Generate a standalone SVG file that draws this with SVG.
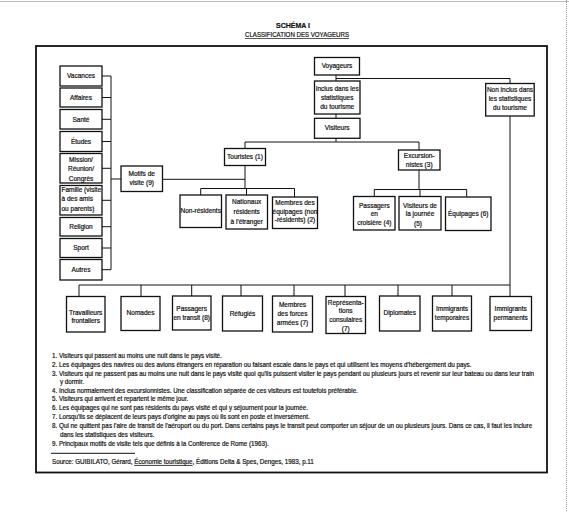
<svg xmlns="http://www.w3.org/2000/svg" width="569" height="512" viewBox="0 0 569 512">
<style>
text{font-family:'Liberation Sans',Arial,sans-serif;fill:#111;stroke:#111;stroke-width:0.2}
.t{font-size:6.5px;text-anchor:middle}
.bx{fill:#fff;stroke:#111;stroke-width:1.3}
.c{fill:none;stroke:#111;stroke-width:1}
.fn text{font-size:6.8px}
</style>
<rect width="569" height="512" fill="#fff"/>
<line x1="0" y1="1.5" x2="569" y2="1.5" stroke="#bbb" stroke-width="1"/>
<line x1="566.5" y1="0" x2="566.5" y2="512" stroke="#999" stroke-width="1" stroke-dasharray="1,1"/>
<g id="title">
<text x="293" y="27.5" style="font-size:7px;font-weight:bold;text-anchor:middle">SCHÉMA I</text>
<text x="245" y="37" style="font-size:6.8px" textLength="104" lengthAdjust="spacingAndGlyphs">CLASSIFICATION DES VOYAGEURS</text>
<line x1="245" y1="38.5" x2="349" y2="38.5" stroke="#111" stroke-width="0.7"/>
</g>
<rect id="frame" x="36" y="46" width="511" height="426.5" fill="none" stroke="#111" stroke-width="1.8"/>
<g id="connectors" class="c">
<path d="M102 76H111M102 97.5H111M102 119.3H111M102 141.5H111M102 168.3H111M102 200.3H111M102 226.7H111M102 248H111M102 269.7H111M111 76V269.7M111 179H121"/>
<path d="M162.5 179.3H245M245 142V148.5M245 165.5V188.5M200.7 188.5H294.5M200.7 188.5V195M246.5 188.5V195M294.5 188.5V197"/>
<path d="M245 142H419M336 138.3V142M419 142V150M419 170V189.5M374.3 189.5H466.7M374.3 189.5V196.5M420 189.5V196.5M466.7 189.5V197"/>
<path d="M336 75V81M336 78.5H510V83.5M336 114V118.3M510 116V296.5M79 285H510"/>
<path d="M79 285V296.5M141 285V296.5M191.7 285V296M241 285V296M294 285V296M345 285V296.5M398 285V296M452 285V296"/>
</g>
<g id="vacances"><rect class="bx" x="60" y="66" width="42" height="20"/><text class="t" x="81" y="78.3">Vacances</text></g>
<g id="affaires"><rect class="bx" x="60" y="88" width="42" height="19"/><text class="t" x="81" y="99.8">Affaires</text></g>
<g id="sante"><rect class="bx" x="60" y="109.5" width="42" height="19.5"/><text class="t" x="81" y="121.6">Santé</text></g>
<g id="etudes"><rect class="bx" x="60" y="131.5" width="42" height="20"/><text class="t" x="81" y="143.8">Études</text></g>
<g id="mission"><rect class="bx" x="60" y="153.5" width="42" height="29.5"/><text class="t" x="81" y="161.5">Mission/</text><text class="t" x="81" y="171">Réunion/</text><text class="t" x="81" y="180.5">Congrès</text></g>
<g id="famille"><rect class="bx" x="60" y="185.5" width="42" height="29.5"/><text x="61.5" y="192.3" style="font-size:6.5px" textLength="39.5" lengthAdjust="spacingAndGlyphs">Famille (visite</text><text x="61.5" y="201.3" style="font-size:6.5px">à des amis</text><text x="61.5" y="210.6" style="font-size:6.5px">ou parents)</text></g>
<g id="religion"><rect class="bx" x="60" y="217.5" width="42" height="18.5"/><text class="t" x="81" y="229">Religion</text></g>
<g id="sport"><rect class="bx" x="60" y="238.5" width="42" height="19"/><text class="t" x="81" y="250.3">Sport</text></g>
<g id="autres"><rect class="bx" x="60" y="259.5" width="42" height="20.5"/><text class="t" x="81" y="272">Autres</text></g>
<g id="motifs"><rect class="bx" x="121" y="166" width="41.5" height="25.5"/><text class="t" x="141.7" y="175.6">Motifs de</text><text class="t" x="141.7" y="185">visite (9)</text></g>
<g id="voyageurs"><rect class="bx" x="314.5" y="57.5" width="45" height="17.5"/><text class="t" x="337" y="68.3">Voyageurs</text></g>
<g id="inclus"><rect class="bx" x="314.5" y="81" width="45.5" height="33"/><text class="t" x="337.2" y="90.6">Inclus dans les</text><text class="t" x="337.2" y="99.6">statistiques</text><text class="t" x="337.2" y="109">du tourisme</text></g>
<g id="visiteurs"><rect class="bx" x="314.5" y="118.3" width="45.5" height="20"/><text class="t" x="337.2" y="130.3">Visiteurs</text></g>
<g id="noninclus"><rect class="bx" x="485.7" y="83.5" width="48.5" height="32.5"/><text class="t" x="510" y="91.6">Non inclus dans</text><text class="t" x="510" y="100.6">les statistiques</text><text class="t" x="510" y="109.6">du tourisme</text></g>
<g id="touristes"><rect class="bx" x="224.5" y="148.5" width="41" height="17"/><text class="t" x="245" y="159.3">Touristes (1)</text></g>
<g id="excursionnistes"><rect class="bx" x="398.5" y="150" width="41.5" height="20"/><text class="t" x="419.2" y="158">Excursion-</text><text class="t" x="419.2" y="167.3">nistes (3)</text></g>
<g id="nonresidents"><rect class="bx" x="180" y="195" width="41.5" height="32.5"/><text class="t" x="200.7" y="213">Non-résidents</text></g>
<g id="nationaux"><rect class="bx" x="226" y="195" width="41.5" height="34"/><text class="t" x="246.7" y="204">Nationaux</text><text class="t" x="246.7" y="214">résidents</text><text class="t" x="246.7" y="224">à l'étranger</text></g>
<g id="membres"><rect class="bx" x="272.5" y="197" width="45" height="31.5"/><text class="t" x="295" y="204.6">Membres des</text><text class="t" x="295" y="214">équipages (non</text><text class="t" x="295" y="222.3">-résidents) (2)</text></g>
<g id="croisiere"><rect class="bx" x="353.5" y="196.5" width="41.5" height="33.5"/><text class="t" x="374.3" y="208">Passagers</text><text class="t" x="374.3" y="216.3">en</text><text class="t" x="374.3" y="224.6">croisière (4)</text></g>
<g id="journee"><rect class="bx" x="399" y="196.5" width="42" height="33.5"/><text class="t" x="420" y="208">Visiteurs de</text><text class="t" x="420" y="216.3">la journée</text><text class="t" x="418" y="225.6">(5)</text></g>
<g id="equipages"><rect class="bx" x="445.5" y="197" width="45.5" height="33.5"/><text class="t" x="468.2" y="216.3">Équipages (6)</text></g>
<g id="travailleurs"><rect class="bx" x="66.5" y="296.5" width="38.5" height="35.5"/><text class="t" x="85.7" y="314.6">Travailleurs</text><text class="t" x="85.7" y="323">frontaliers</text></g>
<g id="nomades"><rect class="bx" x="121" y="296.5" width="39" height="34"/><text class="t" x="140.5" y="315">Nomades</text></g>
<g id="transit"><rect class="bx" x="172.5" y="296" width="38.5" height="34"/><text class="t" x="191.7" y="311.3">Passagers</text><text class="t" x="191.7" y="320">en transit (8)</text></g>
<g id="refugies"><rect class="bx" x="222.5" y="296" width="40" height="35"/><text class="t" x="242.5" y="315.6">Réfugiés</text></g>
<g id="forces"><rect class="bx" x="272.5" y="296" width="40" height="36"/><text class="t" x="292.5" y="306.6">Membres</text><text class="t" x="292.5" y="315.6">des forces</text><text class="t" x="292.5" y="325">armées (7)</text></g>
<g id="consulaires"><rect class="bx" x="326" y="296.5" width="39.5" height="37"/><text class="t" x="345.7" y="305">Représenta-</text><text class="t" x="345.7" y="313.3">tions</text><text class="t" x="345.7" y="321.6">consulaires</text><text class="t" x="345.7" y="330.6">(7)</text></g>
<g id="diplomates"><rect class="bx" x="379.5" y="296" width="40.5" height="35"/><text class="t" x="399.7" y="314.6">Diplomates</text></g>
<g id="temporaires"><rect class="bx" x="432.5" y="296" width="39" height="35"/><text class="t" x="452" y="310.6">Immigrants</text><text class="t" x="452" y="319.6">temporaires</text></g>
<g id="permanents"><rect class="bx" x="490" y="296.5" width="41.5" height="34"/><text class="t" x="510.7" y="310.6">Immigrants</text><text class="t" x="510.7" y="319.6">permanents</text></g>
<g class="fn" id="notes" transform="translate(52 0) scale(0.92 1)">
<text x="0" y="358.2">1. Visiteurs qui passent au moins une nuit dans le pays visité.</text>
<text x="0" y="367.2" textLength="456" lengthAdjust="spacingAndGlyphs">2. Les équipages des navires ou des avions étrangers en réparation ou faisant escale dans le pays et qui utilisent les moyens d'hébergement du pays.</text>
<text x="0" y="376.2" textLength="524" lengthAdjust="spacingAndGlyphs">3. Visiteurs qui ne passent pas au moins une nuit dans le pays visité quoi qu'ils puissent visiter le pays pendant ou plusieurs jours et revenir sur leur bateau ou dans leur train</text>
<text x="8.7" y="384.5">y dormir.</text>
<text x="0" y="393.2">4. Inclus normalement des excursionnistes.  Une classification séparée de ces visiteurs est toutefois préférable.</text>
<text x="0" y="401.5">5. Visiteurs qui arrivent et repartent le même jour.</text>
<text x="0" y="410">6. Les équipages qui ne sont pas résidents du pays visité et qui y séjournent pour la journée.</text>
<text x="0" y="419">7. Lorsqu'ils se déplacent de leurs pays d'origine au pays où ils sont en poste et inversément.</text>
<text x="0" y="428.2" textLength="522" lengthAdjust="spacingAndGlyphs">8. Qui ne quittent pas l'aire de transit de l'aéroport ou du port.  Dans certains pays le transit peut comporter un séjour de un ou plusieurs jours.  Dans ce cas, il faut les inclure</text>
<text x="8.7" y="437.2">dans les statistiques des visiteurs.</text>
<text x="0" y="446.2">9. Principaux motifs de visite tels que définis à la Conférence de Rome (1963).</text>
<text x="0" y="464">Source: GUIBILATO, Gérard, <tspan text-decoration="underline">Économie touristique</tspan>, Éditions Delta &amp; Spes, Denges, 1983, p.11</text>
</g>
<line x1="51" y1="453.3" x2="135" y2="453.3" stroke="#111" stroke-width="1"/>
</svg>
